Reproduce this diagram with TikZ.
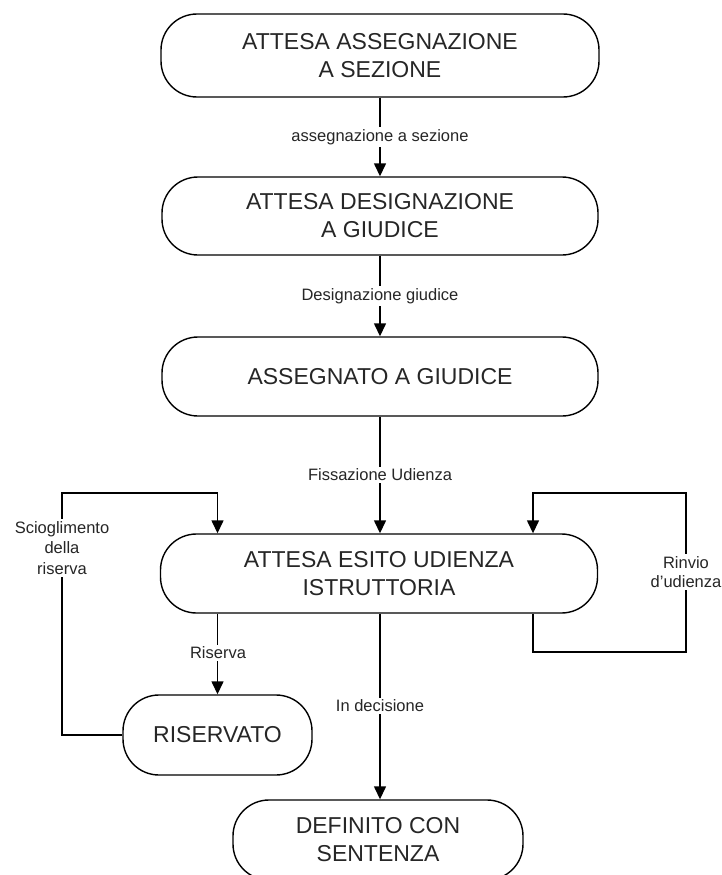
\documentclass[tikz,border=0pt]{standalone}
\usepackage{fontspec}
\setmainfont{Liberation Sans}
\usetikzlibrary{arrows.meta}
\begin{document}
\begin{tikzpicture}[x=1pt,y=-1pt,
  state/.style={draw=black, line width=1.4pt, rounded corners=36pt, align=center,
    font=\fontsize{23}{28}\selectfont, text=black!85, inner sep=0pt},
  conn/.style={line width=1.4pt, -{Triangle[length=13pt,width=12pt]}},
  lbl/.style={fill=white, inner sep=2pt, align=center, font=\fontsize{16.5}{20}\selectfont, text=black!85}]
\useasboundingbox (0,0) rectangle (722,875);
\clip (0,0) rectangle (722,875);
\node[state, minimum width=438pt, minimum height=83pt] (n1) at (380,55.5) {ATTESA ASSEGNAZIONE\\A SEZIONE};
\node[state, minimum width=436pt, minimum height=78pt] (n2) at (380,216) {ATTESA DESIGNAZIONE\\A GIUDICE};
\node[state, minimum width=436pt, minimum height=79pt] (n3) at (380,376.5) {ASSEGNATO A GIUDICE};
\node[state, minimum width=437pt, minimum height=79pt] (n4) at (379,573.5) {ATTESA ESITO UDIENZA\\ISTRUTTORIA};
\node[state, minimum width=189pt, minimum height=80pt] (r) at (217.5,735) {RISERVATO};
\node[state, minimum width=290pt, minimum height=80pt] (d) at (378,840) {DEFINITO CON\\SENTENZA};
\coordinate (lt) at (62,493);
\coordinate (rinL) at (533,493);
\coordinate (rt) at (686,493);
\coordinate (rb) at (686,652);
\coordinate (cx) at (380,0);
\draw[conn] (n1.south -| cx) -- (n2.north -| cx);
\draw[conn] (n2.south -| cx) -- (n3.north -| cx);
\draw[conn] (n3.south -| cx) -- (n4.north -| cx);
\draw[conn] (n4.south -| cx) -- (d.north -| cx);
\draw[conn] (n4.south -| r.north) -- (r.north);
\draw[conn] (r.west) -| (lt) -| (n4.north -| r.north);
\draw[conn] (n4.south -| rinL) |- (rb) -- (rt) -- (rinL) -- (n4.north -| rinL);
\node[lbl] (l1) at (380,137) {assegnazione a sezione};
\node[lbl] (l2) at (380,296) {Designazione giudice};
\node[lbl] (l3) at (380,475) {Fissazione Udienza};
\node[lbl] (l4) at (218,653) {Riserva};
\node[lbl] (l5) at (380,706) {In decisione};
\node[lbl, font=\fontsize{16.5}{20.5}\selectfont] (l6) at (62,548) {Scioglimento\\della\\riserva};
\node[lbl, font=\fontsize{16.5}{19.5}\selectfont] (l7) at (686,572) {Rinvio\\d’udienza};
\end{tikzpicture}
\end{document}
